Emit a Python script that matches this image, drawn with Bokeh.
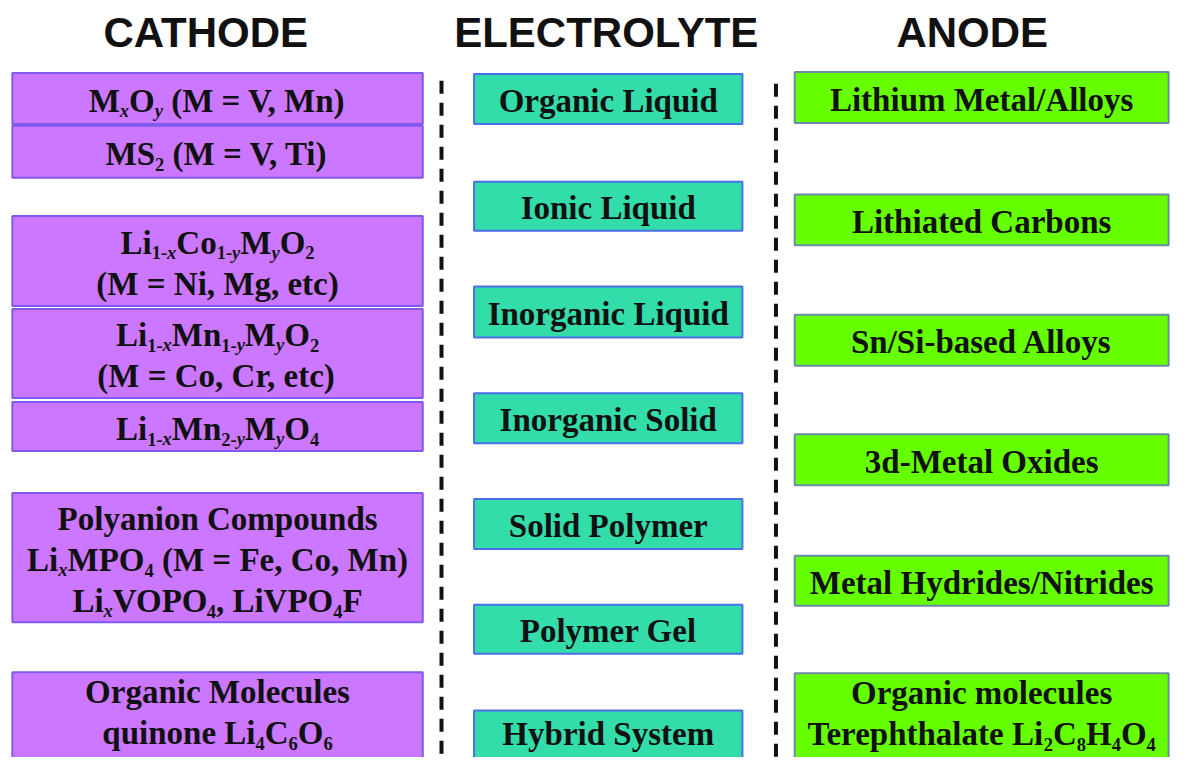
import re
from bokeh.plotting import figure
from bokeh.models import ColumnDataSource, Range1d
from bokeh.core.properties import value
from bokeh.embed import file_html
from bokeh.resources import INLINE

# ---------------- data ----------------
headers = ["CATHODE", "ELECTROLYTE", "ANODE"]

cathode_labels = [
    "M_{x}O_{y} (M = V, Mn)",
    "MS_{2} (M = V, Ti)",
    "Li_{1-x}Co_{1-y}M_{y}O_{2}\n(M = Ni, Mg, etc)",
    "Li_{1-x}Mn_{1-y}M_{y}O_{2}\n(M = Co, Cr, etc)",
    "Li_{1-x}Mn_{2-y}M_{y}O_{4}",
    "Polyanion Compounds\nLi_{x}MPO_{4} (M = Fe, Co, Mn)\nLi_{x}VOPO_{4}, LiVPO_{4}F",
    "Organic Molecules\nquinone Li_{4}C_{6}O_{6}",
]
electrolyte_labels = [
    "Organic Liquid", "Ionic Liquid", "Inorganic Liquid", "Inorganic Solid",
    "Solid Polymer", "Polymer Gel", "Hybrid System",
]
anode_labels = [
    "Lithium Metal/Alloys", "Lithiated Carbons", "Sn/Si-based Alloys",
    "3d-Metal Oxides", "Metal Hydrides/Nitrides",
    "Organic molecules\nTerephthalate Li_{2}C_{8}H_{4}O_{4}",
]

# box layout (reference pixel coordinates)
cathode_top = [74, 128, 220, 315, 410, 503, 686]
cathode_bottom = [126, 181, 312, 406, 460, 635, 764]
electrolyte_top = [75, 185, 292, 401, 509, 617, 725]
electrolyte_bottom = [126, 235, 344, 452, 560, 667, 768]
anode_top = [73, 198, 321, 443, 567, 687]
anode_bottom = [125, 250, 373, 495, 618, 765]

# ---------------- style ----------------
W, H = 1177, 757
REF_W, REF_H = 1193, 773
SX = W / REF_W
FS = 33          # main font size px
SUB = 0.56       # subscript scale
LINE = 42        # line spacing (reference px)

# Times-Bold AFM widths (Liberation Serif Bold is metric compatible)
TB = {' ': 250, '!': 333, '(': 333, ')': 333, ',': 250, '-': 333, '.': 250, '/': 278,
      '=': 570, 'A': 722, 'B': 667, 'C': 722, 'D': 722, 'E': 667, 'F': 611, 'G': 778,
      'H': 778, 'I': 389, 'J': 500, 'K': 778, 'L': 667, 'M': 944, 'N': 722, 'O': 778,
      'P': 611, 'Q': 778, 'R': 722, 'S': 556, 'T': 667, 'U': 722, 'V': 722, 'W': 1000,
      'X': 722, 'Y': 722, 'Z': 667, 'a': 500, 'b': 556, 'c': 444, 'd': 556, 'e': 444,
      'f': 333, 'g': 500, 'h': 556, 'i': 278, 'j': 333, 'k': 556, 'l': 278, 'm': 833,
      'n': 556, 'o': 500, 'p': 556, 'q': 556, 'r': 444, 's': 389, 't': 333, 'u': 556,
      'v': 500, 'w': 722, 'x': 500, 'y': 500, 'z': 444}
for d in "0123456789":
    TB[d] = 500
TBI = {'x': 500, 'y': 444}
KERN = {"Te": -92, "VO": -45, "V,": -92}


def segments(line):
    """split a markup line into (text, kind) with kind in n / s / si"""
    out = []
    pos = 0
    for m in re.finditer(r"_\{([^}]*)\}", line):
        if m.start() > pos:
            out.append((line[pos:m.start()], "n"))
        for ch in m.group(1):
            kind = "si" if ch in "xy" else "s"
            if out and out[-1][1] == kind:
                out[-1] = (out[-1][0] + ch, kind)
            else:
                out.append((ch, kind))
        pos = m.end()
    if pos < len(line):
        out.append((line[pos:], "n"))
    return out


def width(text, kind):
    """width in reference (data) units"""
    if kind == "n":
        u = sum(TB.get(c, 500) for c in text)
        u += sum(KERN.get(text[i:i + 2], 0) for i in range(len(text) - 1))
        w = u * FS / 1000
    else:
        table = TBI if kind == "si" else TB
        w = sum(table.get(c, 500) for c in text) * FS * SUB / 1000
    return w / SX


seg = dict(x=[], y=[], text=[], size=[], style=[])


def place(label, cx, top, bottom):
    lines = label.split("\n")
    cy = (top + bottom) / 2
    n = len(lines)
    for i, ln in enumerate(lines):
        lc = cy + (i - (n - 1) / 2) * LINE
        base = lc + 0.34 * FS - 9
        parts = segments(ln)
        total = sum(width(t, k) for t, k in parts)
        x = cx - total / 2
        for t, k in parts:
            lead = len(t) - len(t.lstrip(" "))
            body = t.strip(" ")
            if body:
                seg["x"].append(x + width(" " * lead, k))
                seg["y"].append(base if k == "n" else base + 0.32 * FS)
                seg["text"].append(body)
                seg["size"].append(f"{FS}px" if k == "n" else f"{FS * SUB:.1f}px")
                seg["style"].append("bold italic" if k == "si" else "bold")
            x += width(t, k)


p = figure(width=W, height=H, output_backend="svg", toolbar_location=None,
           x_range=Range1d(0, REF_W), y_range=Range1d(REF_H, 0),
           min_border=0, outline_line_color=None)
p.axis.visible = False
p.grid.visible = False
p.background_fill_color = "white"
p.border_fill_color = "white"

columns = [
    (cathode_labels, cathode_top, cathode_bottom, 12, 428, "#CC77FF", "#7F5AEE"),
    (electrolyte_labels, electrolyte_top, electrolyte_bottom, 480, 752, "#33DDAA", "#4A6FE8"),
    (anode_labels, anode_top, anode_bottom, 805, 1184, "#66FF00", "#6F8AA8"),
]
for labels, tops, bots, l, r, fill, edge in columns:
    # the last box of each column runs off the bottom of the picture
    draw_bots = bots[:-1] + [800]
    src = ColumnDataSource(dict(left=[l] * len(tops), right=[r] * len(tops),
                                top=tops, bottom=draw_bots))
    p.quad(left="left", right="right", top="top", bottom="bottom", source=src,
           fill_color=fill, line_color=edge, line_width=2)
    for lab, t, b in zip(labels, tops, bots):
        place(lab, (l + r) / 2, t, b)

# dashed separators
p.segment(x0=[447, 786], y0=[82, 85], x1=[447, 786], y1=[790, 790],
          line_color="#111111", line_width=4, line_dash="13 9")

p.text(x="x", y="y", text="text", source=ColumnDataSource(seg),
       text_font=value("Liberation Serif"), text_font_size="size",
       text_font_style="style", text_color="#111111",
       text_align="left", text_baseline="alphabetic")

# headers
p.text(x=[208, 614, 985], y=[33, 33, 33], text=headers,
       text_font=value("Liberation Sans"), text_font_size="42px",
       text_font_style="bold", text_color="#111111",
       text_align="center", text_baseline="middle")

open("out.html", "w").write(file_html(p, INLINE))
